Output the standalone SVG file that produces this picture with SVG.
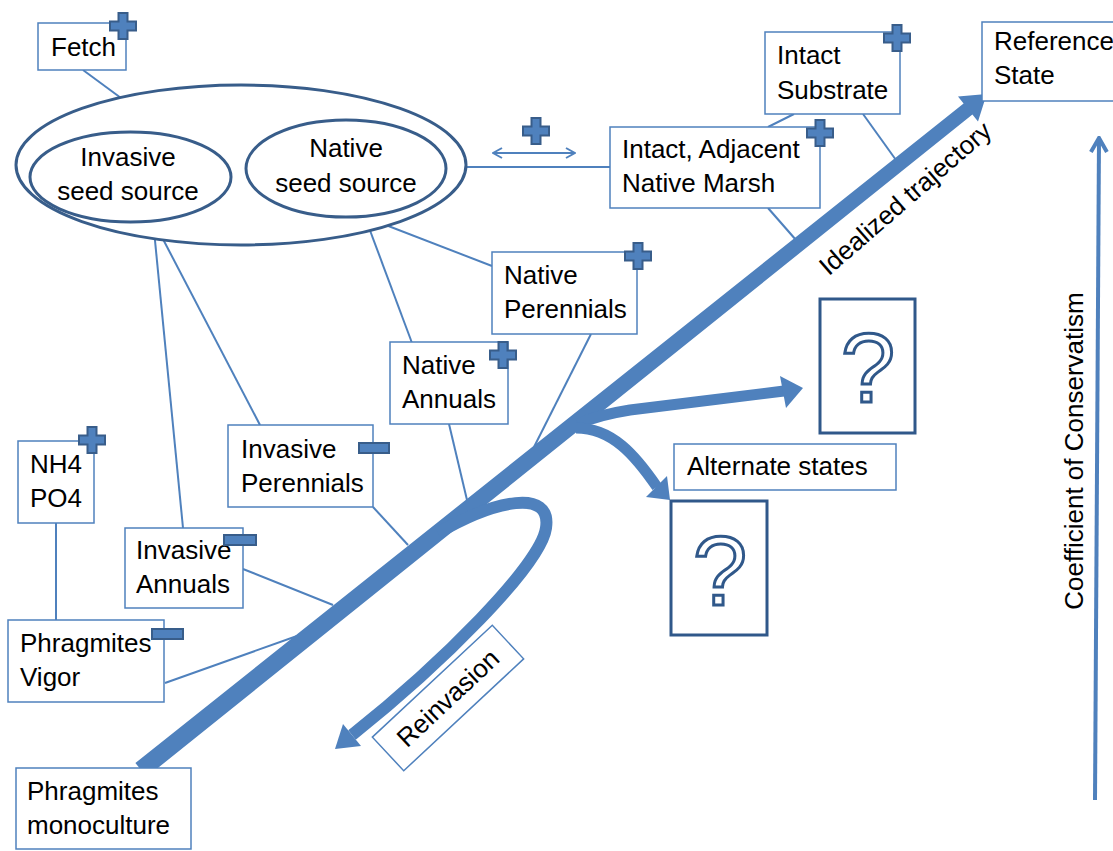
<svg xmlns="http://www.w3.org/2000/svg" width="1113" height="851" viewBox="0 0 1113 851">
<defs>
<style>
text{font-family:"Liberation Sans",Arial,sans-serif;font-size:26px;fill:#000}
.box{fill:#fff;stroke:#4f81bd;stroke-width:1.5}
.ell{fill:#fff;stroke:#385d8a;stroke-width:3}
.con{stroke:#4f81bd;stroke-width:2;fill:none}
.plus{fill:#4f81bd;stroke:#385d8a;stroke-width:2}
.minus{fill:#4f81bd;stroke:#385d8a;stroke-width:2}
.big{fill:#4f81bd;stroke:none}
.thick{fill:none;stroke:#4f81bd}
.qbox{fill:#fff;stroke:#30588a;stroke-width:3}
.q{font-size:98px;fill:#fff;stroke:#30588a;stroke-width:3;text-anchor:middle}
.mid{text-anchor:middle}
</style>
<marker id="chev" viewBox="0 0 12 12" refX="11" refY="6" markerWidth="12" markerHeight="12" orient="auto-start-reverse" markerUnits="userSpaceOnUse">
<path d="M2,1 L11,6 L2,11" fill="none" stroke="#4f81bd" stroke-width="2"/>
</marker>
<marker id="chev2" viewBox="0 0 20 20" refX="18" refY="10" markerWidth="20" markerHeight="20" orient="auto" markerUnits="userSpaceOnUse">
<path d="M4,2 L18,10 L4,18" fill="none" stroke="#4f81bd" stroke-width="4"/>
</marker>
<path id="pl" d="M-4.5,-13 H4.5 V-4.5 H13 V4.5 H4.5 V13 H-4.5 V4.5 H-13 V-4.5 H-4.5 Z"/>
</defs>
<rect width="1113" height="851" fill="#fff"/>

<g id="connectors">
<line class="con" x1="83" y1="70" x2="121" y2="98"/>
<line class="con" x1="447" y1="167" x2="610" y2="167"/>
<line class="con" x1="794" y1="114" x2="768" y2="127"/>
<line class="con" x1="863" y1="114" x2="896" y2="160"/>
<line class="con" x1="768" y1="208" x2="796" y2="240"/>
<line class="con" x1="365" y1="217" x2="492" y2="266"/>
<line class="con" x1="365" y1="217" x2="412" y2="343"/>
<line class="con" x1="153" y1="220" x2="260" y2="425"/>
<line class="con" x1="153" y1="220" x2="183" y2="528"/>
<line class="con" x1="591" y1="334" x2="534" y2="447"/>
<line class="con" x1="449" y1="424" x2="467" y2="500"/>
<line class="con" x1="373" y1="507" x2="408" y2="545"/>
<line class="con" x1="243" y1="569" x2="333" y2="605"/>
<line class="con" x1="165" y1="683" x2="297" y2="636"/>
<line class="con" x1="56" y1="523" x2="56" y2="620"/>
<line class="con" x1="493" y1="153" x2="575" y2="153" marker-start="url(#chev)" marker-end="url(#chev)"/>
<line x1="1095" y1="800" x2="1099" y2="138" stroke="#4f81bd" stroke-width="4" marker-end="url(#chev2)"/>
</g>

<g id="trajectory">
<polygon class="big" points="135.4,763 963.6,103.5 958,96.5 986.7,94 978,121.5 972.4,114.5 146.6,777"/>
<path class="thick" stroke-width="11" d="M578,424 Q598,415 630,410 L784,391"/>
<polygon class="big" points="780,376 803,388 786,408"/>
<path class="thick" stroke-width="11" d="M576,428 C612,428 635,455 657,487"/>
<polygon class="big" points="646,497 670,500 667,476"/>
<path class="thick" stroke-width="12" d="M438,533 C495,500 552,488 546,528 C541,565 440,665 352,735"/>
<polygon class="big" points="343,724 335,749 361,746"/>
<text transform="translate(911,205) rotate(-41)" class="mid" font-size="24">Idealized trajectory</text>
</g>

<g id="seed-sources">
<ellipse class="ell" cx="241" cy="165" rx="225" ry="80"/>
<ellipse class="ell" cx="130.5" cy="177" rx="100.5" ry="45"/>
<ellipse class="ell" cx="346" cy="168.5" rx="100" ry="48.5"/>
<text x="128" y="166" class="mid">Invasive</text>
<text x="128" y="200" class="mid">seed source</text>
<text x="346" y="157" class="mid">Native</text>
<text x="346" y="192" class="mid">seed source</text>
</g>

<g id="fetch">
<rect class="box" x="38" y="23" width="88" height="47"/>
<text x="51" y="56">Fetch</text>
<use href="#pl" class="plus" x="123" y="26"/>
</g>

<g id="plus-exchange">
<use href="#pl" class="plus" x="536" y="131"/>
</g>

<g id="intact-substrate">
<rect class="box" x="765" y="32" width="135" height="82"/>
<text x="777" y="64">Intact</text>
<text x="777" y="99">Substrate</text>
<use href="#pl" class="plus" x="897" y="38"/>
</g>

<g id="reference-state">
<rect class="box" x="982" y="22" width="140" height="79"/>
<text x="994" y="50">Reference</text>
<text x="994" y="84">State</text>
</g>

<g id="adjacent-marsh">
<rect class="box" x="610" y="127" width="210" height="81"/>
<text x="622" y="158">Intact, Adjacent</text>
<text x="622" y="192">Native Marsh</text>
<use href="#pl" class="plus" x="820" y="133"/>
</g>

<g id="native-perennials">
<rect class="box" x="492" y="252" width="145" height="82"/>
<text x="504" y="284">Native</text>
<text x="504" y="318">Perennials</text>
<use href="#pl" class="plus" x="638" y="256"/>
</g>

<g id="native-annuals">
<rect class="box" x="390" y="342" width="118" height="82"/>
<text x="402" y="374">Native</text>
<text x="402" y="408">Annuals</text>
<use href="#pl" class="plus" x="503" y="355"/>
</g>

<g id="invasive-perennials">
<rect class="box" x="228" y="425" width="145" height="82"/>
<text x="241" y="458">Invasive</text>
<text x="241" y="492">Perennials</text>
<rect class="minus" x="359" y="443" width="30" height="10"/>
</g>

<g id="nutrients">
<rect class="box" x="18" y="441" width="76" height="82" stroke="#8db3e2"/>
<text x="30" y="473">NH4</text>
<text x="30" y="507">PO4</text>
<use href="#pl" class="plus" x="92" y="440"/>
</g>

<g id="invasive-annuals">
<rect class="box" x="125" y="528" width="118" height="80"/>
<text x="136" y="559">Invasive</text>
<text x="136" y="593">Annuals</text>
<rect class="minus" x="224" y="535" width="32" height="10"/>
</g>

<g id="phragmites-vigor">
<rect class="box" x="8" y="620" width="156" height="82"/>
<text x="20" y="652">Phragmites</text>
<text x="20" y="686">Vigor</text>
<rect class="minus" x="152" y="629" width="31" height="10"/>
</g>

<g id="phragmites-monoculture">
<rect class="box" x="16" y="768" width="175" height="81"/>
<text x="27" y="800">Phragmites</text>
<text x="27" y="834">monoculture</text>
</g>

<g id="alternate-states">
<rect class="box" x="674" y="444" width="222" height="46"/>
<text x="687" y="475">Alternate states</text>
</g>

<g id="unknown-1">
<rect class="qbox" x="820" y="299" width="95" height="134"/>
<text x="868" y="402" class="q">?</text>
</g>

<g id="unknown-2">
<rect class="qbox" x="671" y="501" width="96" height="134"/>
<text x="720" y="605" class="q">?</text>
</g>

<g id="reinvasion">
<g transform="translate(448,698) rotate(-43)">
<rect class="box" x="-82" y="-23" width="164" height="46"/>
<text x="0" y="9" class="mid">Reinvasion</text>
</g>
</g>

<g id="axis-label">
<text transform="translate(1083,451) rotate(-90)" class="mid">Coefficient of Conservatism</text>
</g>
</svg>
